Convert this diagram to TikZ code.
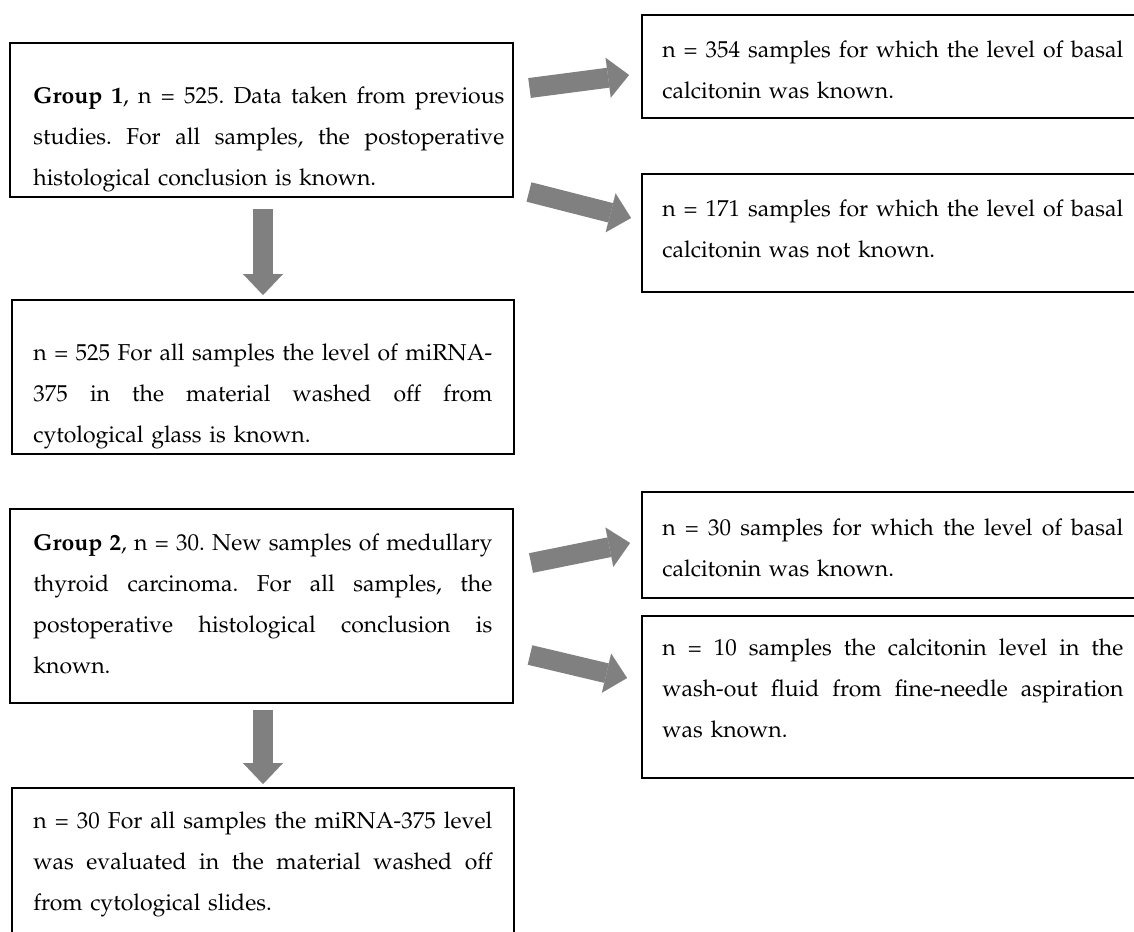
\documentclass[tikz,border=0pt]{standalone}
\usepackage[T1]{fontenc}
\renewcommand{\rmdefault}{ppl}
\usetikzlibrary{arrows.meta,fit}
\definecolor{arrowgray}{RGB}{128,128,128}
\newdimen\linew
\tikzset{
  box/.style={draw=black, line width=1.2pt, inner sep=0pt},
  txt/.style={anchor=north west, inner sep=0pt, align=left, font=\fontsize{11.5}{20.5}\selectfont\frenchspacing,
    text width=#1, execute at begin node={\global\linew=#1\relax}},
  blockarrow/.style={draw=arrowgray, line width=10pt, -{Triangle[length=10.5pt, width=20pt, line width=0.01pt]}},
}
\newcommand{\jl}[1]{\leavevmode\hbox to \linew{\spaceskip=0.25em plus 1fil minus 0.05em\relax\xspaceskip=\spaceskip #1}}
\begin{document}
\begin{tikzpicture}[x=0.5pt, y=-0.5pt]
\useasboundingbox (0,0) rectangle (1134,931);
\clip (0,0) rectangle (1134,931);
\fill[white] (0,0) rectangle (1134,931);

% boxes
\node[box, fit={(10,43) (513,197)}] (g1) {};
\node[box, fit={(642,15) (1160,118)}] (a) {};
\node[box, fit={(642,174) (1160,292)}] (b) {};
\node[box, fit={(12,300) (514,454)}] (c) {};
\node[box, fit={(10,509) (513,703)}] (g2) {};
\node[box, fit={(642,492) (1160,598)}] (cc) {};
\node[box, fit={(642,616) (1160,778)}] (d) {};
\node[box, fit={(12,788) (514,960)}] (e) {};

% texts
\node[txt=235.5pt] (g1t) at (33,74.7) {\strut\jl{\textbf{Group 1}, n = 525. Data taken from previous}\\
\jl{studies. For all samples, the postoperative}\\
histological conclusion is known.};
\node[txt=230.5pt] (at) at (662,28.7) {\strut\jl{n = 354 samples for which the level of basal}\\
calcitonin was known.};
\node[txt=230.5pt] (bt) at (662,187.7) {\strut\jl{n = 171 samples for which the level of basal}\\
calcitonin was not known.};
\node[txt=229.5pt] (ct) at (33,331.7) {\strut\jl{n = 525 For all samples the level of miRNA-}\\
\jl{375 in the material washed off from}\\
cytological glass is known.};
\node[txt=229.5pt] (g2t) at (33,521.7) {\strut\jl{\textbf{Group 2}, n = 30. New samples of medullary}\\
\jl{thyroid carcinoma. For all samples, the}\\
\jl{postoperative histological conclusion is}\\
known.};
\node[txt=230.5pt] (cct) at (662,506.7) {\strut\jl{n = 30 samples for which the level of basal}\\
calcitonin was known.};
\node[txt=230.5pt] (dt) at (662,626.7) {\strut\jl{n = 10 samples the calcitonin level in the}\\
\jl{wash-out fluid from fine-needle aspiration}\\
was known.};
\node[txt=229.5pt] (et) at (33,799.7) {\strut\jl{n = 30 For all samples the miRNA-375 level}\\
\jl{was evaluated in the material washed off}\\
from cytological slides.};

% arrow end points
\coordinate (a1s) at (529.5,88);  \coordinate (a1e) at (629,75);
\coordinate (a2s) at (529,192);   \coordinate (a2e) at (631,218);
\coordinate (d1s) at (263,209);   \coordinate (d1e) at (263,295);
\coordinate (a3s) at (531,563);   \coordinate (a3e) at (630,543);
\coordinate (a4s) at (530,655);   \coordinate (a4e) at (627,678);
\coordinate (d2s) at (263,710);   \coordinate (d2e) at (263,784);

\draw[blockarrow] (a1s) -- (a1e);
\draw[blockarrow] (a2s) -- (a2e);
\draw[blockarrow] (d1s) -- (d1e);
\draw[blockarrow] (a3s) -- (a3e);
\draw[blockarrow] (a4s) -- (a4e);
\draw[blockarrow] (d2s) -- (d2e);
\end{tikzpicture}
\end{document}
